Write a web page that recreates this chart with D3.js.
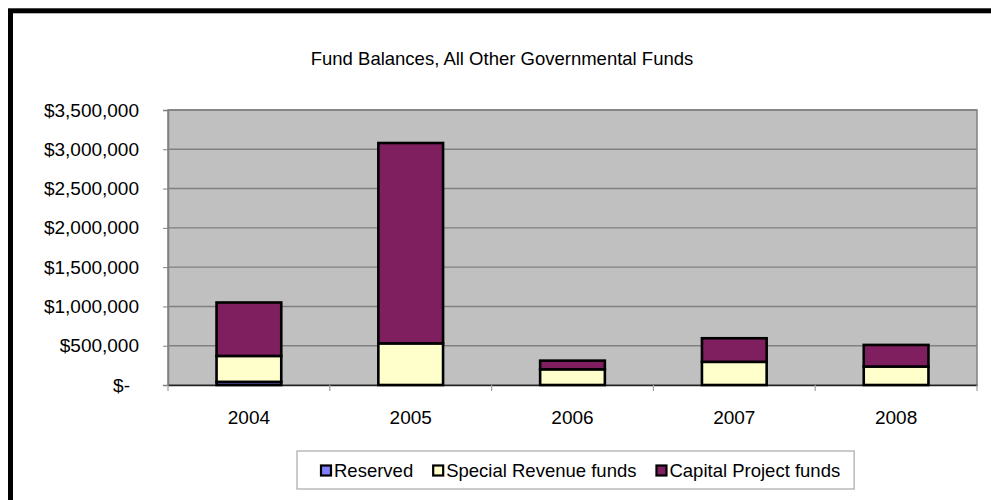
<!DOCTYPE html>
<html>
<head>
<meta charset="utf-8">
<script src="https://cdn.jsdelivr.net/npm/d3@7"></script>
<style>
	body { margin: 0; background: #fff; }
	svg text { font-family: "Liberation Sans", Arial, sans-serif; fill: #000; }
</style>
</head>
<body>
<div id="chart"></div>
<script>
//////////////////////////// data /////////////////////////////////////////

const years = ["2004", "2005", "2006", "2007", "2008"];
const seriesNames = ["Reserved", "Special Revenue funds", "Capital Project funds"];
const reserved = [40000, 0, 0, 0, 0];
const specialRevenue = [330000, 530000, 200000, 295000, 235000];
const capitalProject = [680000, 2550000, 110000, 300000, 275000];
const yTicks = [0, 500000, 1000000, 1500000, 2000000, 2500000, 3000000, 3500000];
const chartTitle = "Fund Balances, All Other Governmental Funds";

//////////////////////////// set up //////////////////////////////////////

const width = 991;
const height = 500;
const plot = { left: 168, right: 977, top: 110, bottom: 385 };
const colors = ["#8080ff", "#ffffcc", "#7f1f5f"];

const table = years.map((y, i) => ({
	year: y,
	"Reserved": reserved[i],
	"Special Revenue funds": specialRevenue[i],
	"Capital Project funds": capitalProject[i]
}));
const stacked = d3.stack().keys(seriesNames)(table);

const svg = d3.select("#chart").append("svg")
	.attr("width", width)
	.attr("height", height);

// outer frame (runs off the right and bottom edge)
svg.append("rect")
	.attr("x", 10.5).attr("y", 10.8)
	.attr("width", 1000).attr("height", 520)
	.attr("fill", "#fff")
	.attr("stroke", "#000")
	.attr("stroke-width", 5);

svg.append("text")
	.attr("x", 502).attr("y", 65)
	.attr("text-anchor", "middle")
	.style("font-size", "18.5px")
	.text(chartTitle);

//////////////////////////// scales ///////////////////////////////////////

const xScale = d3.scaleBand()
	.domain(years)
	.range([plot.left, plot.right])
	.paddingInner(0.6)
	.paddingOuter(0.3);

const yScale = d3.scaleLinear()
	.domain([0, 3500000])
	.range([plot.bottom, plot.top]);

//////////////////////////// plot area ////////////////////////////////////

svg.append("rect")
	.attr("x", plot.left).attr("y", plot.top)
	.attr("width", plot.right - plot.left)
	.attr("height", plot.bottom - plot.top)
	.attr("fill", "#c0c0c0")
	.attr("stroke", "#808080")
	.attr("stroke-width", 1.5);

svg.append("g")
	.selectAll("line")
	.data(yTicks.slice(1))
	.join("line")
	.attr("x1", plot.left).attr("x2", plot.right)
	.attr("y1", (d) => yScale(d)).attr("y2", (d) => yScale(d))
	.attr("stroke", "#808080")
	.attr("stroke-width", 1.4);

//////////////////////////// axes /////////////////////////////////////////

const yAxis = svg.append("g")
	.attr("transform", `translate(${plot.left},0)`)
	.call(d3.axisLeft(yScale)
		.tickValues(yTicks)
		.tickSize(5)
		.tickPadding(24)
		.tickFormat((d) => (d === 0 ? "$-" : d3.format("$,")(d))));
yAxis.select(".domain").attr("stroke", "#808080").attr("stroke-width", 1.5);
yAxis.selectAll(".tick line").attr("stroke", "#808080");
yAxis.selectAll("text").style("font-size", "19px").attr("fill", "#000");
// accounting format leaves room after the dash
yAxis.selectAll(".tick").filter((d) => d === 0).select("text").attr("dx", -9);

const xAxis = svg.append("g")
	.attr("transform", `translate(0,${plot.bottom})`)
	.call(d3.axisBottom(xScale).tickSize(0).tickPadding(26));
xAxis.select(".domain").attr("stroke", "#222").attr("stroke-width", 1.5);
xAxis.selectAll("text").style("font-size", "19px").attr("fill", "#000");

// category separator ticks
const step = xScale.step();
const edges = years.map((y) => xScale(y) - step * xScale.paddingInner() / 2)
	.concat([plot.right]);
edges[0] = plot.left;
xAxis.selectAll(".sep")
	.data(edges)
	.join("line")
	.attr("class", "sep")
	.attr("x1", (d) => d).attr("x2", (d) => d)
	.attr("y1", 0).attr("y2", 6)
	.attr("stroke", "#a0a0a0")
	.attr("stroke-width", 1.2);

//////////////////////////// bars /////////////////////////////////////////

svg.append("g")
	.selectAll("g")
	.data(stacked)
	.join("g")
	.attr("fill", (d, i) => colors[i])
	.selectAll("rect")
	.data((d) => d.filter((p) => p[1] - p[0] > 0))
	.join("rect")
	.attr("x", (d) => xScale(d.data.year))
	.attr("width", xScale.bandwidth())
	.attr("y", (d) => yScale(d[1]))
	.attr("height", (d) => yScale(d[0]) - yScale(d[1]))
	.attr("stroke", "#000")
	.attr("stroke-width", 2.6);

//////////////////////////// legend ///////////////////////////////////////

const legend = svg.append("g");
const legendBox = legend.append("rect")
	.attr("x", 297).attr("y", 451)
	.attr("height", 38)
	.attr("fill", "#fff")
	.attr("stroke", "#b0b0b0")
	.attr("stroke-width", 1.3);

let lx = 321;
seriesNames.forEach((name, i) => {
	legend.append("rect")
		.attr("x", lx).attr("y", 465.5)
		.attr("width", 10).attr("height", 10)
		.attr("fill", colors[i])
		.attr("stroke", "#000")
		.attr("stroke-width", 2.2);
	const t = legend.append("text")
		.attr("x", lx + 13).attr("y", 477)
		.style("font-size", "18.5px")
		.text(name);
	lx += 13 + t.node().getComputedTextLength() + 20;
});
legendBox.attr("width", lx - 20 + 14 - 297);
</script>
</body>
</html>
